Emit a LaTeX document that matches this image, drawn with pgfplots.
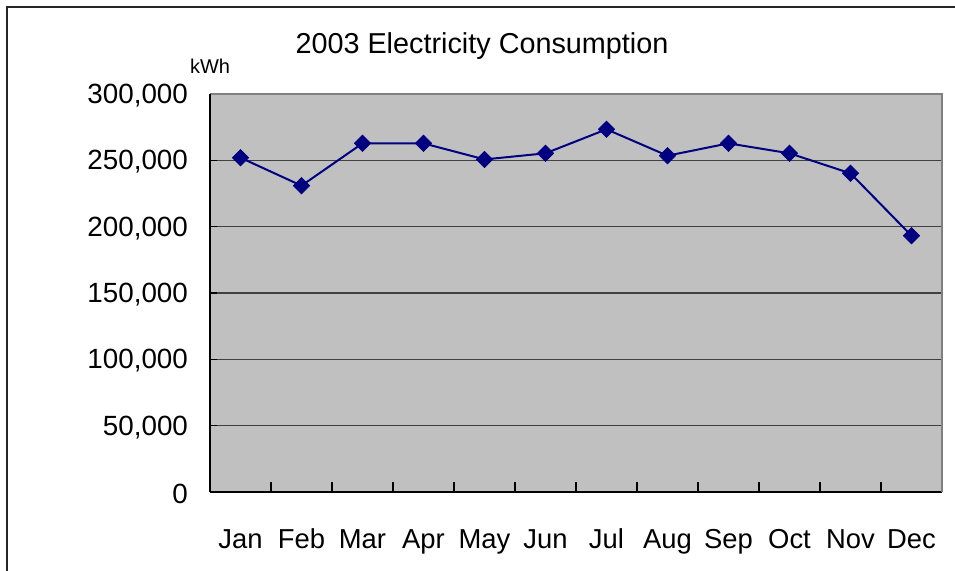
\documentclass[border=0pt]{standalone}
\usepackage{fontspec}
\setmainfont{Liberation Sans}
\usepackage{pgfplots}
\pgfplotsset{compat=1.18}
\definecolor{navyc}{RGB}{0,0,128}
\definecolor{plotbg}{RGB}{192,192,192}
\definecolor{bordgray}{RGB}{128,128,128}
\begin{document}
\begin{tikzpicture}
\useasboundingbox (0pt,0pt) rectangle (477.5pt,285pt);
\draw[line width=1pt,black!85] (3.5pt,-20pt) -- (3.5pt,281.5pt) -- (500pt,281.5pt);
\begin{axis}[
  at={(105pt,39pt)}, anchor=south west,
  scale only axis, width=366pt, height=199pt,
  xmin=0.5, xmax=12.5, ymin=0, ymax=300000,
  axis background/.style={fill=plotbg},
  axis line style={bordgray, line width=0.8pt},
  separate axis lines,
  x axis line style={black,line width=0.8pt},
  y axis line style={black,line width=0.8pt},
  xtick={1,...,12},
  xticklabels={Jan,Feb,Mar,Apr,May,Jun,Jul,Aug,Sep,Oct,Nov,Dec},
  major x tick style={draw=none},
  minor xtick={0.5,1.5,...,12.5},
  minor x tick style={black,line width=0.6pt},
  minor tick length=5pt,
  tick align=inside,
  tick pos=left,
  ytick={0,50000,...,300000},
  major y tick style={black,line width=0.6pt},
  major tick length=3.5pt,
  ymajorgrids,
  major grid style={black!75,line width=0.6pt},
  scaled y ticks=false,
  /pgf/number format/.cd, fixed, 1000 sep={,}, assume math mode=true,
  /pgfplots/.cd,
  yticklabel style={font=\fontsize{13.9pt}{16pt}\selectfont, xshift=-7.5pt, yshift=-0.8pt},
  xticklabel style={font=\fontsize{13.7pt}{16pt}\selectfont, text height=10pt, text depth=3pt, yshift=-14.5pt},
  clip=false,
]
\addplot[navyc, line width=1pt, mark=square*, mark size=2.9pt, mark options={rotate=45,fill=navyc,draw=navyc,line width=0.3pt}] coordinates {
(1,252000) (2,230900) (3,262800) (4,262800) (5,250700) (6,255300)
(7,273400) (8,253500) (9,262800) (10,255300) (11,240200) (12,193200)
};
\end{axis}
\draw[bordgray,line width=1.2pt] (105pt,238pt) -- (471pt,238pt) -- (471pt,39pt);
\draw[black,line width=0.8pt] (105pt,39pt) -- (105pt,238pt);
\node[font=\fontsize{14.4pt}{17pt}\selectfont] at (241pt,262pt) {2003 Electricity Consumption};
\node[font=\fontsize{10pt}{12pt}\selectfont] at (105pt,252pt) {kWh};
\end{tikzpicture}
\end{document}
